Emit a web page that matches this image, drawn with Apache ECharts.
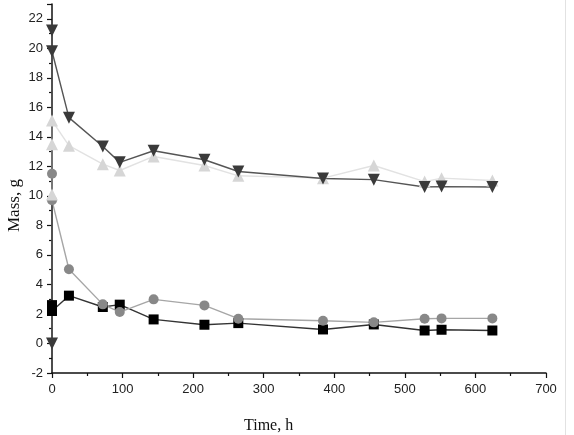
<!DOCTYPE html>
<html>
<head>
<meta charset="utf-8">
<script src="https://cdn.jsdelivr.net/npm/echarts@6/dist/echarts.min.js"></script>
<style>html,body{margin:0;padding:0;background:#fff}#c{width:574px;height:435px}</style>
</head>
<body>
<div id="c"></div>
<script>
// Time (h) values and mass (g) for each series
const darkTriTime  = [0, 0, 0, 24, 72, 96, 144, 216, 264, 384, 456, 528, 552, 624];
const darkTriMass  = [0, 21.2, 19.8, 15.3, 13.35, 12.27, 13.06, 12.45, 11.65, 11.18, 11.1, 10.6, 10.63, 10.6];
const lightTriTime = [0, 0, 0, 24, 72, 96, 144, 216, 264, 384, 456, 528, 552, 624];
const lightTriMass = [10.1, 13.5, 15.1, 13.4, 12.15, 11.72, 12.67, 12.06, 11.36, 11.2, 12.06, 10.97, 11.2, 11.04];
const circleTime   = [0, 0, 24, 72, 96, 144, 216, 264, 384, 456, 528, 552, 624];
const circleMass   = [11.5, 9.7, 5.03, 2.65, 2.13, 2.99, 2.58, 1.68, 1.54, 1.43, 1.68, 1.7, 1.7];
const squareTime   = [0, 0, 24, 72, 96, 144, 216, 264, 384, 456, 528, 552, 624];
const squareMass   = [2.6, 2.2, 3.24, 2.47, 2.63, 1.63, 1.27, 1.38, 0.95, 1.29, 0.88, 0.93, 0.88];

const xAxisName = 'Time, h';
const yAxisName = 'Mass, g';

function pairs(xs, ys) { return xs.map((x, i) => [x, ys[i]]); }

const chart = echarts.init(document.getElementById('c'));
const tickLabel = { fontFamily: 'Liberation Sans', fontSize: 13, color: '#222' };

chart.setOption({
  animation: false,
  backgroundColor: '#fff',
  grid: { left: 52, right: 28, top: 4, bottom: 62 },
  xAxis: {
    type: 'value', min: 0, max: 700, interval: 100,
    axisLine: { show: true, onZero: false, lineStyle: { color: '#111', width: 1.5 } },
    axisTick: { show: true, length: 5, lineStyle: { color: '#111', width: 1.2 } },
    minorTick: { show: true, splitNumber: 2, length: 3, lineStyle: { color: '#111', width: 1.2 } },
    splitLine: { show: false },
    axisLabel: Object.assign({ margin: 10 }, tickLabel)
  },
  yAxis: {
    type: 'value', min: -2, max: 23, interval: 2,
    axisLine: { show: true, onZero: false, lineStyle: { color: '#111', width: 1.5 } },
    axisTick: { show: true, length: 5, lineStyle: { color: '#111', width: 1.2 } },
    minorTick: { show: true, splitNumber: 2, length: 3, lineStyle: { color: '#111', width: 1.2 } },
    splitLine: { show: false },
    axisLabel: Object.assign({ margin: 9, formatter: v => (v === 23 ? '' : String(v)) }, tickLabel)
  },
  graphic: [
    { type: 'text', left: 244, top: 418, style: { text: xAxisName, font: '16px "Liberation Serif"', fill: '#111' } },
    { type: 'text', x: 6, y: 232, rotation: Math.PI / 2, style: { text: yAxisName, font: '17px "Liberation Serif"', fill: '#111' } },
    { type: 'line', shape: { x1: 565.5, y1: 0, x2: 565.5, y2: 435 }, style: { stroke: '#e2e2e2', lineWidth: 1 } }
  ],
  series: [
    {
      type: 'line', data: pairs(squareTime, squareMass), clip: false,
      symbol: 'rect', symbolSize: 10,
      itemStyle: { color: '#000' }, lineStyle: { color: '#333', width: 1.4 }
    },
    {
      type: 'line', data: pairs(circleTime, circleMass), clip: false,
      symbol: 'circle', symbolSize: 10,
      itemStyle: { color: '#888' }, lineStyle: { color: '#a6a6a6', width: 1.4 }
    },
    {
      type: 'line', data: pairs(lightTriTime, lightTriMass), clip: false,
      symbol: 'triangle', symbolSize: 12,
      itemStyle: { color: '#d6d6d6' }, lineStyle: { color: '#e2e2e2', width: 1.4 }
    },
    {
      type: 'line', data: pairs(darkTriTime, darkTriMass), clip: false,
      symbol: 'triangle', symbolRotate: 180, symbolSize: 12,
      itemStyle: { color: '#3a3a3a' }, lineStyle: { color: '#555', width: 1.4 }
    }
  ]
});
</script>
</body>
</html>
